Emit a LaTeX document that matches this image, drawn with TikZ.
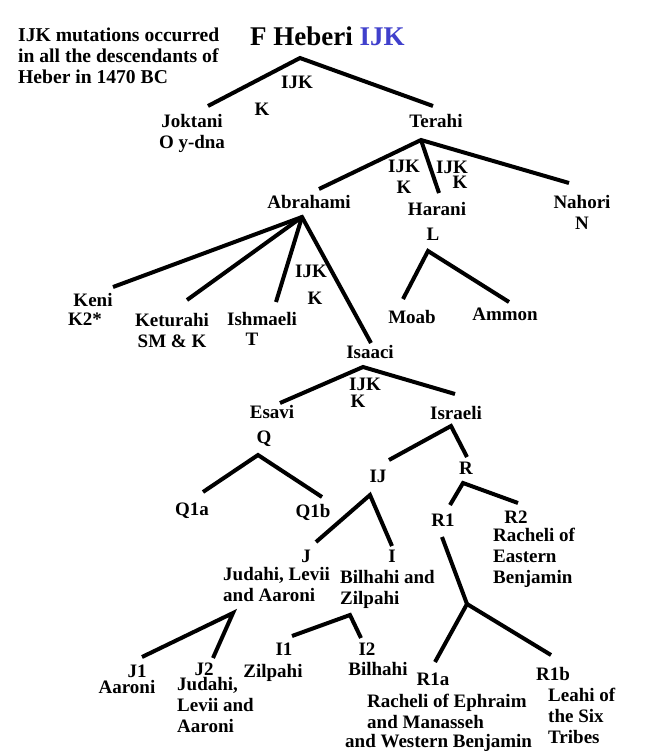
\documentclass[tikz,border=0pt]{standalone}
\usepackage{fontspec}
\setmainfont{Liberation Serif}
\definecolor{ijkblue}{rgb}{0.25,0.25,0.8}
\tikzset{
  nm/.style={font=\fontsize{19}{21}\selectfont\bfseries, anchor=base, align=center, inner sep=0pt},
  nml/.style={nm, anchor=base west, align=left},
  ttl/.style={font=\fontsize{27}{30}\selectfont\bfseries, anchor=base west, inner sep=0pt},
  br/.style={line width=4pt},
}

\begin{document}
\begin{tikzpicture}[x=1pt, y=-1pt]
\useasboundingbox[fill=white] (0,0) rectangle (647,753);
% titles (multi-line nodes sit on their last baseline)
\node[ttl] (heber) at (250,45) {F Heberi \textcolor{ijkblue}{IJK}};
\node[nml, font=\fontsize{19.6}{21}\selectfont\bfseries] (note) at (18,83) {IJK mutations occurred\\in all the descendants of\\Heber in 1470 BC};
% people and haplogroups
\node[nm] (jok) at (192,148) {Joktani\\O y-dna};
\node[nm] (ter) at (436,127) {Terahi};
\node[nm] (abr) at (309,208) {Abrahami};
\node[nm] (har) at (437,215) {Harani};
\node[nm] (harL) at (433,240) {L};
\node[nm] (nah) at (582,229) {Nahori\\N};
\node[nm] (keni) at (93,306) {Keni};
\node[nm] (keniK) at (85,325) {K2*};
\node[nm] (ket) at (172,347) {Keturahi\\SM \& K};
\node[nm] (ish) at (262,325) {Ishmaeli};
\node[nm] (ishT) at (252,345) {T};
\node[nm] (moab) at (412,323) {Moab};
\node[nm] (amm) at (505,320) {Ammon};
\node[nm] (isa) at (370,358) {Isaaci};
\node[nm] (esa) at (272,418) {Esavi};
\node[nm] (esaQ) at (264,443) {Q};
\node[nm] (isr) at (456,419) {Israeli};
\node[nm] (ij) at (378,482) {IJ};
\node[nm] (r) at (466,474) {R};
\node[nm] (qa) at (192,515) {Q1a};
\node[nm] (qb) at (313,517) {Q1b};
\node[nm] (ra) at (443,526) {R1};
\node[nm] (rb) at (516,523) {R2};
\node[nml] (rbtxt) at (493,583) {Racheli of\\Eastern\\Benjamin};
\node[nm] (j) at (306,562) {J};
\node[nml] (jtxt) at (223,601) {Judahi, Levii\\and Aaroni};
\node[nm] (i) at (392,562) {I};
\node[nml] (itxt) at (340,604) {Bilhahi and\\Zilpahi};
\node[nm] (ja) at (137,677) {J1};
\node[nm] (jatxt) at (127,693) {Aaroni};
\node[nm] (jb) at (204,675) {J2};
\node[nml] (jbtxt) at (177,732) {Judahi,\\Levii and\\Aaroni};
\node[nm] (ia) at (284,655) {I1};
\node[nm] (iatxt) at (273,677) {Zilpahi};
\node[nm] (ib) at (367,655) {I2};
\node[nm] (ibtxt) at (378,675) {Bilhahi};
\node[nm] (raa) at (433,685) {R1a};
\node[nml] (raatxt) at (367,728) {Racheli of Ephraim\\and Manasseh};
\node[nml] (raatxt2) at (345,747) {and Western Benjamin};
\node[nm] (rab) at (553,680) {R1b};
\node[nml] (rabtxt) at (548,743) {Leahi of\\the Six\\Tribes};
% branch labels
\node[nm] (hIJK) at (297,88) {IJK};
\node[nm] (hK) at (262,115) {K};
\node[nm] (tIJK) at (404,193) {IJK\\K};
\node[nm] (tIJK2) at (452,173) {IJK};
\node[nm] (tK2) at (460,188) {K};
\node[nm] (aIJK) at (311,277) {IJK};
\node[nm] (aK) at (315,304) {K};
\node[nm] (iIJK) at (365,390) {IJK};
\node[nm] (iK) at (358,407) {K};
% branch points and ends
\coordinate (cHeb) at (300,58);
\coordinate (cJok) at (208,106);
\coordinate (cTer) at (433,106);
\coordinate (pTer) at (421,140);
\coordinate (cAbr) at (319,189);
\coordinate (cHar) at (439,193);
\coordinate (cNah) at (569,183);
\coordinate (pHar) at (428,251);
\coordinate (cMoab) at (403,299);
\coordinate (cAmm) at (509,302);
\coordinate (pAbr) at (302,217);
\coordinate (cKeni) at (113,287);
\coordinate (cKet) at (187,300);
\coordinate (cIsh) at (276,302);
\coordinate (cIsa) at (371,343);
\coordinate (pIsa) at (363,367);
\coordinate (cEsa) at (280,403);
\coordinate (cIsr) at (455,394);
\coordinate (pQ) at (258,455);
\coordinate (cQa) at (203,492);
\coordinate (cQb) at (322,497);
\coordinate (pIsr) at (451,426);
\coordinate (cIJ) at (389,460);
\coordinate (cR) at (467,457);
\coordinate (pIJ) at (370,495);
\coordinate (cJ) at (316,542);
\coordinate (cI) at (392,546);
\coordinate (pR) at (463,483);
\coordinate (cRa) at (450,505);
\coordinate (cRb) at (518,503);
\coordinate (cRaTop) at (442,537);
\coordinate (pRa) at (467,604);
\coordinate (cRaa) at (435,662);
\coordinate (cRab) at (551,655);
\coordinate (pJ) at (233,613);
\coordinate (cJa) at (142,657);
\coordinate (cJb) at (213,658);
\coordinate (pI) at (350,615);
\coordinate (cIa) at (292,636);
\coordinate (cIb) at (361,638);
% branches
\draw[br] (cJok) -- (cHeb) -- (cTer);
\draw[br] (cAbr) -- (pTer) -- (cNah);
\draw[br] (pTer) -- (cHar);
\draw[br] (cMoab) -- (pHar) -- (cAmm);
\draw[br] (cKeni) -- (pAbr) -- (cIsa);
\draw[br] (pAbr) -- (cKet);
\draw[br] (pAbr) -- (cIsh);
\draw[br] (cEsa) -- (pIsa) -- (cIsr);
\draw[br] (cQa) -- (pQ) -- (cQb);
\draw[br] (cIJ) -- (pIsr) -- (cR);
\draw[br] (cJ) -- (pIJ) -- (cI);
\draw[br] (cRa) -- (pR) -- (cRb);
\draw[br] (cRaTop) -- (pRa);
\draw[br] (cRaa) -- (pRa) -- (cRab);
\draw[br] (cJa) -- (pJ) -- (cJb);
\draw[br] (cIa) -- (pI) -- (cIb);
\end{tikzpicture}
\end{document}
